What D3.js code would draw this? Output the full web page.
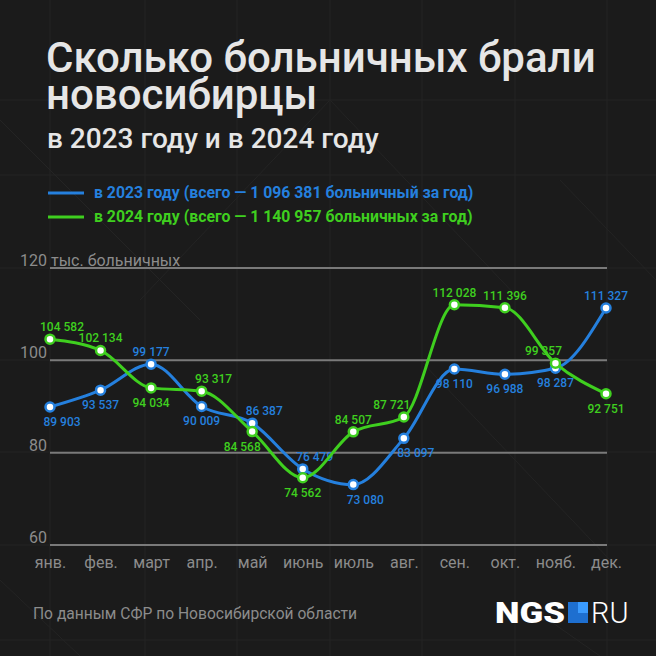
<!DOCTYPE html>
<html><head><meta charset="utf-8">
<script src="https://cdn.jsdelivr.net/npm/d3@7"></script>
<style>
html,body{margin:0;padding:0;background:#1b1b1b;}
svg{display:block;font-family:Roboto,"Noto Sans",sans-serif;}
</style></head>
<body>
<svg id="c" width="656" height="656"></svg>
<script>
const months = ["янв.","фев.","март","апр.","май","июнь","июль","авг.","сен.","окт.","нояб.","дек."];
const values2023 = [89903,93537,99177,90009,86387,76479,73080,83097,98110,96988,98287,111327];
const values2024 = [104582,102134,94034,93317,84568,74562,84507,87721,112028,111396,99357,92751];
const place2023 = ["br","b","a","b","ar","ar","br","br","b","b","b","a"];
const place2024 = ["ar","a","b","ar","bl","b","a","al","a","a","al","b"];
const yTicks = [60,80,100,120];
const legend2023 = "в 2023 году (всего — 1 096 381 больничный за год)";
const legend2024 = "в 2024 году (всего — 1 140 957 больничных за год)";
const titleLines = ["Сколько больничных брали","новосибирцы"];
const subtitle = "в 2023 году и в 2024 году";
const source = "По данным СФР по Новосибирской области";

const BLUE = "#2580de", GREEN = "#3fcf1f";
const svg = d3.select("#c");
svg.append("rect").attr("width",656).attr("height",656).attr("fill","#1b1b1b");

// subtle decorative background
const deco = svg.append("g").attr("stroke","#242424").attr("stroke-width",1).attr("fill","none");
[50,145,237,330,422,515,607].forEach(x=>deco.append("line").attr("x1",x).attr("x2",x).attr("y1",0).attr("y2",656));
[100,175,268,360,452,545,640].forEach(y=>deco.append("line").attr("x1",0).attr("x2",656).attr("y1",y).attr("y2",y));
[[0,120,200,320],[330,100,140,300],[330,100,520,300],[420,360,610,560],[560,180,656,280],[0,580,80,656],[520,600,600,656]].forEach(d=>deco.append("line").attr("x1",d[0]).attr("y1",d[1]).attr("x2",d[2]).attr("y2",d[3]));

// title (one text block, two lines)
const title = svg.append("text").attr("x",46).attr("y",72).attr("fill","#e6e6e6")
  .attr("font-size",42).attr("font-weight",500);
title.selectAll("tspan").data(titleLines).join("tspan")
  .attr("x",46).attr("dy",(d,i)=>i===0?0:37).text(d=>d);
svg.append("text").attr("x",47).attr("y",148).attr("fill","#e6e6e6")
  .attr("font-size",28).attr("font-weight",500).text(subtitle);

// legend
[[legend2023,BLUE,193],[legend2024,GREEN,217]].forEach(([t,c,y])=>{
  svg.append("line").attr("x1",48).attr("x2",84).attr("y1",y).attr("y2",y).attr("stroke",c).attr("stroke-width",3);
  svg.append("text").attr("x",94).attr("y",y+5).attr("fill",c).attr("font-size",15.8).attr("font-weight",700).text(t);
});

// scales
const x = d3.scalePoint().domain(months).range([50,606]);
const y = d3.scaleLinear().domain([60,120]).range([545,268]);

// gridlines
const grid = svg.append("g");
grid.selectAll("line").data(yTicks).join("line")
  .attr("x1",50).attr("x2",607).attr("y1",d=>y(d)).attr("y2",d=>y(d))
  .attr("stroke","#7a7a7a").attr("stroke-width",2);
grid.selectAll("text").data(yTicks).join("text")
  .attr("x",47).attr("y",d=>y(d)-2).attr("text-anchor","end")
  .attr("fill","#8c8c8c").attr("font-size",16).text(d=>d);
svg.append("text").attr("x",51).attr("y",y(120)-2).attr("fill","#8c8c8c").attr("font-size",16).text("тыс. больничных");

// x axis labels
const xAxis = d3.axisBottom(x).tickSize(0).tickPadding(0);
const xg = svg.append("g").attr("transform","translate(0,557)").call(xAxis);
xg.select(".domain").remove();
xg.selectAll("text").attr("fill","#8c8c8c").attr("font-size",16).attr("font-family","Roboto,sans-serif");

// lines
const line = d3.line().x((d,i)=>x(months[i])).y(d=>y(d/1000)).curve(d3.curveMonotoneX);
const fmt = v => d3.format(",")(v).replace(/,/g," ");
const off = {a:[0,-8,"middle"],b:[0,19,"middle"],ar:[12,-8,"middle"],al:[-12,-8,"middle"],br:[12,19,"middle"],bl:[-10,19,"middle"]};

function series(vals, places, color){
  svg.append("path").datum(vals).attr("d",line).attr("fill","none").attr("stroke",color).attr("stroke-width",3);
  const g = svg.append("g");
  g.selectAll("circle").data(vals).join("circle")
    .attr("cx",(d,i)=>x(months[i])).attr("cy",d=>y(d/1000)).attr("r",4.5)
    .attr("fill","#ffffff").attr("stroke",color).attr("stroke-width",2.5);
  g.selectAll("text").data(vals).join("text")
    .attr("x",(d,i)=>x(months[i])+off[places[i]][0])
    .attr("y",(d,i)=>y(d/1000)+off[places[i]][1])
    .attr("text-anchor",(d,i)=>off[places[i]][2])
    .attr("fill",color).attr("font-size",12).attr("font-weight",500).text(fmt);
}
series(values2023, place2023, BLUE);
series(values2024, place2024, GREEN);

// footer
svg.append("text").attr("x",33).attr("y",619).attr("fill","#8c8c8c").attr("font-size",15.6).text(source);
const logo = svg.append("g");
logo.append("text").attr("x",495).attr("y",623).attr("fill","#ffffff").attr("font-size",30).attr("font-weight",900)
  .attr("textLength",70).attr("lengthAdjust","spacingAndGlyphs").text("NGS");
logo.append("rect").attr("x",568).attr("y",602).attr("width",20).attr("height",21).attr("fill","#1e6fd0");
logo.append("rect").attr("x",578).attr("y",602).attr("width",10).attr("height",11).attr("fill","#3a9bff");
logo.append("text").attr("x",591).attr("y",623).attr("fill","#ffffff").attr("font-size",29).attr("font-weight",300).text("RU");
</script>
</body></html>
